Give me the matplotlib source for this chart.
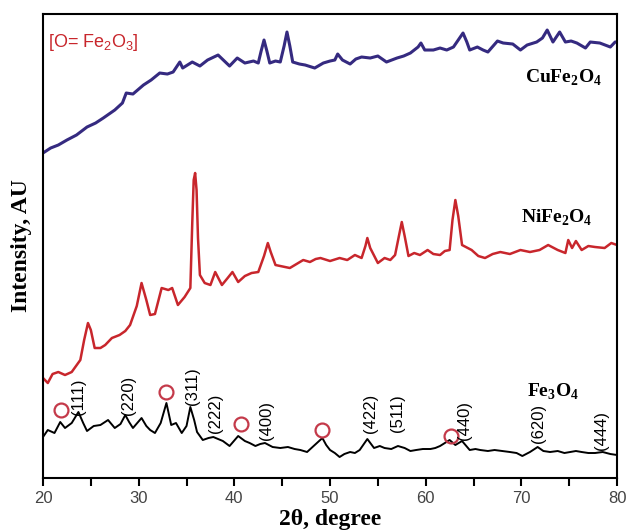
import matplotlib
matplotlib.use("Agg")
import matplotlib.pyplot as plt

plt.rcParams["mathtext.fontset"] = "custom"
plt.rcParams["mathtext.bf"] = "Liberation Serif:bold"
plt.rcParams["mathtext.sf"] = "Liberation Sans"

# --- data (2theta in degrees, intensity in arbitrary units)
fe3o4_x = [20.0, 20.5, 21.2, 21.8, 22.3, 23.0, 23.7, 24.2, 24.6, 25.3, 26.0, 26.8, 27.5,
           28.1, 28.6, 29.0, 29.4, 30.3, 30.8, 31.2, 31.7, 32.3, 32.9, 33.4, 33.9, 34.5,
           35.0, 35.4, 35.8, 36.1, 36.7, 37.3, 37.8, 38.3, 38.8, 39.5, 40.4, 41.1, 41.6,
           42.2, 42.7, 43.2, 44.0, 44.8, 45.6, 46.3, 46.9, 47.6, 48.4, 49.2, 49.6, 50.0,
           50.5, 51.0, 51.5, 52.1, 52.6, 53.1, 53.9, 54.6, 55.2, 55.7, 56.4, 57.1, 57.8,
           58.4, 59.0, 59.7, 60.5, 61.0, 61.5, 62.0, 62.5, 63.1, 63.8, 64.6, 65.2, 65.7,
           66.5, 67.2, 68.0, 68.8, 69.5, 70.1, 70.9, 71.7, 72.3, 73.0, 73.8, 74.5, 75.1,
           75.7, 76.3, 77.0, 77.7, 78.5, 79.3, 80.0]
fe3o4_y = [41, 48, 45, 56, 50, 55, 66, 55, 47, 52, 53, 58, 50,
           54, 63, 56, 50, 60, 52, 48, 45, 55, 75, 53, 55, 45,
           52, 71, 58, 46, 38, 40, 41, 39, 37, 32, 42, 37, 35,
           32, 34, 35, 31, 30, 31, 29, 28, 26, 33, 40, 33, 28,
           25, 21, 24, 26, 25, 28, 39, 30, 32, 30, 29, 32, 30,
           27, 28, 29, 29, 30, 32, 35, 38, 33, 37, 28, 29, 28,
           27, 28, 27, 26, 25, 22, 26, 31, 27, 26, 27, 25, 26,
           27, 26, 25, 25, 26, 24, 23]

nife2o4_x = [20.0, 20.5, 21.0, 21.6, 22.3, 23.0, 23.9, 24.3, 24.7, 25.0, 25.4, 26.0,
             26.5, 27.2, 28.0, 28.6, 29.1, 29.8, 30.3, 30.8, 31.2, 31.7, 32.4, 33.1,
             33.5, 34.1, 34.8, 35.4, 35.6, 35.75, 35.9, 36.05, 36.2, 36.4, 36.9, 37.5,
             38.0, 38.7, 39.3, 39.8, 40.4, 41.1, 41.8, 42.5, 43.1, 43.5, 43.8, 44.3,
             45.3, 45.8, 46.5, 47.2, 47.9, 48.5, 49.0, 50.0, 51.0, 51.8, 52.6, 53.3,
             53.7, 53.9, 54.2, 55.0, 55.7, 56.3, 56.8, 57.2, 57.5, 57.8, 58.2, 58.8,
             59.4, 60.2, 60.8, 61.5, 62.0, 62.5, 62.8, 63.1, 63.4, 63.8, 64.8, 65.5,
             66.2, 67.0, 67.8, 68.8, 69.9, 70.9, 71.9, 72.8, 73.8, 74.6, 74.9, 75.3,
             75.7, 76.3, 77.0, 77.7, 78.7, 79.4, 80.0]
nife2o4_y = [100, 95, 104, 106, 103, 106, 118, 138, 155, 148, 130, 130,
             133, 140, 143, 147, 153, 172, 195, 178, 163, 164, 190, 188,
             190, 173, 181, 190, 255, 298, 305, 288, 240, 203, 195, 193,
             206, 193, 200, 206, 196, 202, 205, 206, 222, 235, 226, 213,
             211, 210, 214, 218, 216, 219, 220, 217, 220, 218, 223, 220,
             232, 240, 230, 215, 220, 218, 223, 242, 256, 242, 222, 225,
             223, 228, 224, 223, 227, 228, 258, 278, 262, 233, 228, 222,
             220, 224, 226, 224, 228, 226, 228, 233, 228, 225, 238, 230,
             237, 228, 232, 231, 230, 235, 233]

cufe2o4_x = [20.0, 20.8, 21.6, 22.5, 23.5, 24.6, 25.5, 26.3, 27.5, 28.3, 28.7, 29.4,
             30.5, 31.3, 32.2, 33.0, 33.6, 34.3, 34.6, 35.6, 36.4, 37.2, 38.3, 39.5,
             40.3, 41.1, 42.0, 42.5, 42.8, 43.1, 43.4, 43.7, 44.3, 44.8, 45.2, 45.5,
             45.8, 46.1, 46.8, 47.4, 48.4, 49.3, 50.0, 50.5, 50.8, 51.3, 52.1, 52.7,
             53.3, 54.2, 55.0, 55.9, 57.0, 57.7, 58.4, 59.2, 59.5, 59.9, 60.8, 61.5,
             62.2, 62.9, 63.4, 63.9, 64.3, 64.6, 65.4, 66.0, 66.5, 67.5, 68.1, 69.1,
             69.9, 70.6, 71.6, 72.2, 72.7, 73.3, 74.0, 74.6, 75.2, 75.8, 76.7, 77.2,
             78.2, 79.3, 79.8, 80.0]
cufe2o4_y = [325, 330, 333, 338, 343, 351, 355, 360, 368, 375, 385, 384,
             393, 398, 405, 404, 406, 416, 410, 416, 412, 418, 423, 412,
             420, 415, 417, 415, 427, 438, 427, 415, 417, 416, 432, 446,
             432, 416, 414, 413, 410, 415, 417, 418, 424, 418, 414, 419,
             421, 420, 422, 416, 420, 422, 425, 431, 435, 428, 428, 430,
             428, 431, 438, 445, 436, 428, 431, 428, 426, 437, 435, 434,
             428, 433, 436, 440, 448, 436, 446, 436, 437, 435, 430, 436,
             435, 431, 436, 436]

# Fe2O3 marker positions
fe2o3_x = [21.9, 32.9, 40.7, 49.2, 62.6]
fe2o3_y = [68, 86, 54, 48, 42]

# Miller indices of Fe3O4 reflections
hkl_labels = ["(111)", "(220)", "(311)", "(222)", "(400)",
              "(422)", "(511)", "(440)", "(620)", "(444)"]
hkl_x = [23.7, 28.9, 35.6, 38.0, 43.4, 54.2, 57.1, 64.1, 71.8, 78.4]
hkl_y = [63, 63, 73, 45, 38, 45, 46, 38, 35, 28]

fig = plt.figure(figsize=(6.26, 5.31), dpi=100)
ax = fig.add_axes([0.0687, 0.0998, 0.917, 0.8738])

ax.plot(cufe2o4_x, cufe2o4_y, color="#352a80", lw=2.2)
ax.plot(nife2o4_x, nife2o4_y, color="#c8262c", lw=1.8)
ax.plot(fe3o4_x, fe3o4_y, color="black", lw=1.4)
ax.plot(fe2o3_x, fe2o3_y, "o", ms=10, mfc="none", mec="#c43a4a", mew=1.6)

for lab, x, y in zip(hkl_labels, hkl_x, hkl_y):
    ax.text(x, y, lab, rotation=90, ha="center", va="bottom",
            fontsize=12, family="Liberation Sans")

serif = dict(family="Liberation Serif", fontweight="bold", fontsize=14)
ax.text(70.4, 400, r"CuFe$_{\mathbf{2}}$O$_{\mathbf{4}}$", va="center", **serif)
ax.text(70.0, 260, r"NiFe$_{\mathbf{2}}$O$_{\mathbf{4}}$", va="center", **serif)
ax.text(70.6, 86, r"Fe$_{\mathbf{3}}$O$_{\mathbf{4}}$", va="center", **serif)

ax.text(20.5, 436, r"[O= Fe$_{\mathsf{2}}$O$_{\mathsf{3}}$]", va="center",
        color="#c8262c", fontsize=13, family="Liberation Sans")

ax.set_xlim(20, 80)
ax.set_ylim(0, 464)
ax.set_xticks([20, 30, 40, 50, 60, 70, 80])
ax.set_xticks([25, 35, 45, 55, 65, 75], minor=True)
ax.set_yticks([])
ax.tick_params(axis="x", which="both", direction="out", length=6, width=1.5,
               labelsize=12, labelcolor="#444444")
for lab in ax.get_xticklabels():
    lab.set_family("Liberation Sans")
for sp in ax.spines.values():
    sp.set_linewidth(1.5)

ax.set_xlabel(r"2θ, degree", family="Liberation Serif", fontweight="bold",
              fontsize=17, labelpad=2)
ax.set_ylabel("Intensity, AU", family="Liberation Serif", fontweight="bold",
              fontsize=17, labelpad=8)

fig.savefig("out.png", dpi=100)
